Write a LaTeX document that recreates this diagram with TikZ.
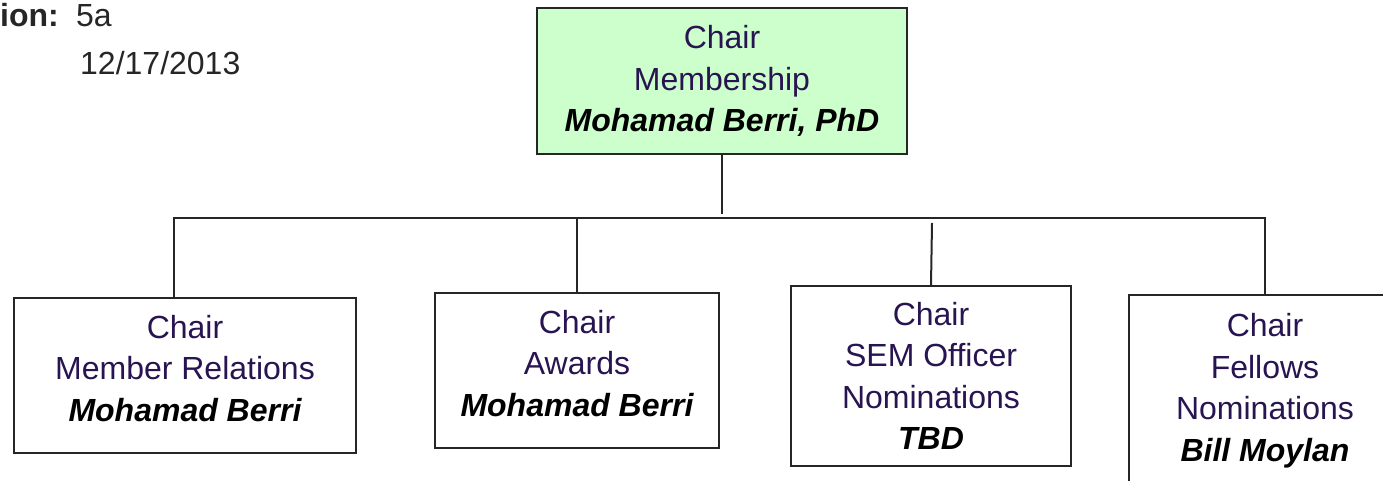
\documentclass[tikz,border=0pt]{standalone}
\usepackage{fontspec}
\setmainfont{Liberation Sans}
\usepackage{tikz}
\usepackage{xcolor}

\definecolor{ink}{RGB}{40,20,80}
\definecolor{mintfill}{RGB}{204,255,204}

\tikzset{
    orgbox/.style={draw=black!85, line width=2pt, align=center, text=ink,
        font=\fontsize{32}{41.5}\selectfont, inner sep=0pt},
    raised/.style={text depth=15pt},
    link/.style={draw=black!85, line width=2pt},
    note/.style={anchor=base west, inner sep=0pt, text=black!85,
        font=\fontsize{32}{40}\selectfont}
}

\newcommand{\who}[1]{\textbf{\textit{\color{black}#1}}}

\begin{document}
\begin{tikzpicture}[x=1pt, y=-1pt]
        \clip (0,0) rectangle (1383,481);
        % revision stamp
        \node[note] (rev) at (0,27) {\textbf{ion:}};
        \node[note] (revno) at (76,27) {5a};
        \node[note] (date) at (80,75) {12/17/2013};

        % boxes
        \node[orgbox, fill=mintfill, minimum width=370, minimum height=146]
            (member) at (722,81) {Chair\\Membership\\\who{Mohamad Berri, PhD}};
        \node[orgbox, raised, minimum width=342, minimum height=155]
            (relations) at (185,375.5) {Chair\\Member Relations\\\who{Mohamad Berri}};
        \node[orgbox, raised, minimum width=284, minimum height=155]
            (awards) at (577,370.5) {Chair\\Awards\\\who{Mohamad Berri}};
        \node[orgbox, minimum width=280, minimum height=180]
            (sem) at (931,376) {Chair\\SEM Officer\\Nominations\\\who{TBD}};
        \node[orgbox, raised, minimum width=272, minimum height=200]
            (fellows) at (1265,395) {Chair\\Fellows\\Nominations\\\who{Bill Moylan}};

        % connectors
        \coordinate (bus) at (722,218);
        \coordinate (hub) at (722,214);
        \coordinate (semtop) at (932,223);
        \draw[link] (member.south) -- (hub);
        \draw[link] ([xshift=-11pt]relations.north) |- (bus) -| (fellows.north);
        \draw[link] (awards.north) -- (awards.north |- bus);
        \draw[link] (sem.north) -- (semtop);
\end{tikzpicture}
\end{document}
